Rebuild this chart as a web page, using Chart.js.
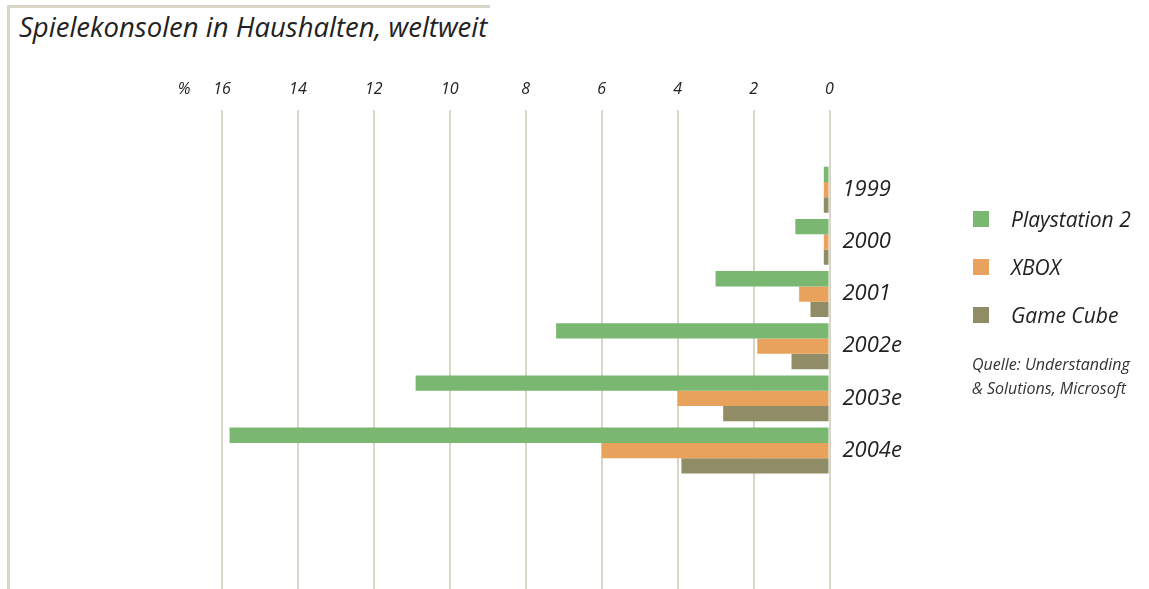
<!DOCTYPE html>
<html lang="de">
<head>
  <meta charset="UTF-8">
  <title>Spielekonsolen in Haushalten, weltweit</title>
  <script src="https://cdn.jsdelivr.net/npm/chart.js"></script>
  <style>
    body {
      margin: 0;
      background: #fff;
      font-family: "Open Sans", sans-serif;
      font-style: italic;
      color: #222;
    }
    .page {
      position: relative;
      width: 1149px;
      height: 589px;
      overflow: hidden;
    }
    .frame {
      position: absolute;
      left: 7px;
      top: 5px;
      width: 480px;
      height: 600px;
      border-left: 3px solid #d8d6c8;
      border-top: 3px solid #d8d6c8;
    }
    .title {
      position: absolute;
      left: 19px;
      top: 8px;
      font-size: 27.5px;
      margin: 0;
      font-weight: 400;
      color: #222;
      white-space: nowrap;
    }
    .chart-box {
      position: absolute;
      left: 0;
      top: 0;
      width: 1149px;
      height: 589px;
    }
    .legend {
      position: absolute;
      left: 973px;
      top: 195px;
    }
    .legend .item {
      display: flex;
      align-items: center;
      height: 48px;
      font-size: 21px;
      color: #222;
    }
    .legend .swatch {
      width: 16px;
      height: 16px;
      margin-right: 22px;
    }
    .source {
      position: absolute;
      left: 972px;
      top: 352px;
      font-size: 16px;
      line-height: 24px;
      color: #333;
    }
  </style>
</head>
<body>
  <div class="page">
    <div class="frame"></div>
    <h1 class="title">Spielekonsolen in Haushalten, weltweit</h1>
    <div class="chart-box"><canvas id="barChart"></canvas></div>
    <div class="legend" id="legend"></div>
    <div class="source">Quelle: Understanding<br>&amp; Solutions, Microsoft</div>
  </div>

  <script>
    // data (percent of households)
    const years = ['1999', '2000', '2001', '2002e', '2003e', '2004e'];
    const seriesNames = ['Playstation 2', 'XBOX', 'Game Cube'];
    const playstation2 = [0.15, 0.9, 3.0, 7.2, 10.9, 15.8];
    const xbox = [0.15, 0.15, 0.8, 1.9, 4.0, 6.0];
    const gameCube = [0.15, 0.15, 0.5, 1.0, 2.8, 3.9];
    const xTicks = [0, 2, 4, 6, 8, 10, 12, 14, 16];
    const unitTick = 17; // position of the "%" label

    const colors = ['#7ab872', '#e8a25b', '#8f8c66'];
    const gridColor = '#d8d6c8';

    const toPoints = arr => arr.map((v, i) => ({ x: v, y: i }));

    Chart.defaults.font.family = '"Open Sans", sans-serif';
    Chart.defaults.font.style = 'italic';
    Chart.defaults.color = '#222';

    const ctx = document.getElementById('barChart').getContext('2d');
    const chart = new Chart(ctx, {
      type: 'bar',
      data: {
        datasets: [playstation2, xbox, gameCube].map((d, i) => ({
          label: seriesNames[i],
          data: toPoints(d),
          backgroundColor: colors[i],
          borderWidth: 0,
          categoryPercentage: 0.88,
          barPercentage: 1.0
        }))
      },
      options: {
        indexAxis: 'y',
        responsive: true,
        maintainAspectRatio: false,
        animation: false,
        layout: { padding: { left: 184, right: 0, top: 0, bottom: 0 } },
        plugins: {
          legend: { display: false },
          tooltip: { enabled: false }
        },
        scales: {
          x: {
            type: 'linear',
            position: 'top',
            reverse: true,
            min: 0,
            max: unitTick,
            afterBuildTicks: s => { s.ticks = xTicks.concat([unitTick]).map(v => ({ value: v })); },
            afterFit: s => { s.height = 110; },
            border: { display: false },
            grid: {
              drawTicks: false,
              lineWidth: 2,
              color: c => (c.tick && c.tick.value === unitTick ? 'rgba(0,0,0,0)' : gridColor)
            },
            ticks: {
              padding: 11,
              font: { size: 16 },
              color: '#222',
              autoSkip: false,
              maxRotation: 0,
              callback: v => (v === unitTick ? '%' : v)
            }
          },
          y: {
            type: 'linear',
            position: 'right',
            reverse: true,
            offset: false,
            min: -1.527,
            max: 7.653,
            afterBuildTicks: s => { s.ticks = years.map((_, i) => ({ value: i })); },
            afterFit: s => { s.width = 319.5; s.paddingTop = 0; s.paddingBottom = 0; },
            border: { display: false },
            grid: { display: false, drawTicks: false },
            ticks: {
              padding: 13,
              font: { size: 22 },
              color: '#222',
              autoSkip: false,
              callback: v => years[v]
            }
          }
        }
      }
    });

    // legend built from the series names and colours
    const legend = document.getElementById('legend');
    seriesNames.forEach((name, i) => {
      const item = document.createElement('div');
      item.className = 'item';
      item.innerHTML = '<span class="swatch" style="background:' + colors[i] + '"></span>' + name;
      legend.appendChild(item);
    });
  </script>
</body>
</html>
